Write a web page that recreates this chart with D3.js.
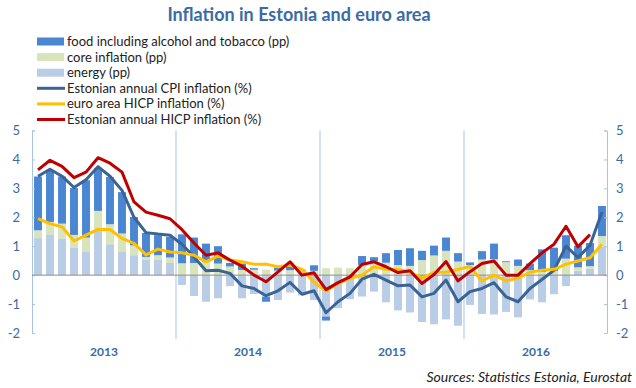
<!DOCTYPE html>
<html lang="en">
<head>
  <meta charset="utf-8">
  <title>Inflation in Estonia and euro area</title>
  <script src="https://d3js.org/d3.v7.min.js"></script>
  <style>
    body { margin: 0; background: #fff; }
    svg text { font-family: Lato, "Open Sans", sans-serif; }
  </style>
</head>
<body>
  <div id="chart"></div>

  <script>
    "use strict"

    // ---- data (Jan 2013 .. Dec 2016) ----
    var years = ['2013', '2014', '2015', '2016'];
    var monthNames = ['Jan','Feb','Mar','Apr','May','Jun','Jul','Aug','Sep','Oct','Nov','Dec'];
    var months = [];
    years.forEach(y => monthNames.forEach(m => months.push(m + ' ' + y)));

    var energy = [
      1.28, 1.41, 1.27, 0.94, 0.80, 1.53, 1.07, 0.80, 0.69, 0.54, 0.54, 0.42,
      -0.34, -0.72, -0.92, -0.80, -0.38, -0.80, -0.65, -0.75, -0.86, -0.60, -0.70, -0.86,
      -1.43, -1.14, -0.83, -0.74, -0.57, -0.94, -1.22, -1.29, -1.62, -1.70, -1.53, -1.75,
      -1.03, -1.34, -1.36, -1.27, -1.46, -0.84, -0.94, -0.66, -0.38, 0.15, 0.22, 0.98
    ];
    var core = [
      0.27, 0.43, 0.51, 0.45, 0.50, 0.69, 0.69, 0.64, 0.34, 0.09, 0.15, 0.19,
      0.41, 0.42, 0.46, 0.40, 0.30, 0.18, 0.19, 0.19, 0.16, 0.17, 0.17, 0.15,
      0.24, 0.26, 0.24, 0.35, 0.47, 0.43, 0.35, 0.32, 0.52, 0.68, 0.84, 0.47,
      0.35, 0.54, 0.55, 0.45, 0.32, 0.17, 0.11, 0.15, 0.57, 0.12, 0.09, 0.37
    ];
    var food = [
      1.86, 1.78, 1.63, 1.62, 1.98, 1.49, 1.63, 1.43, 0.98, 0.83, 0.69, 0.71,
      1.00, 0.88, 0.63, 0.60, 0.12, 0.22, 0.05, -0.17, 0.10, 0.14, 0.02, 0.19,
      -0.14, 0.00, 0.00, 0.31, 0.15, 0.33, 0.52, 0.61, 0.32, 0.34, 0.46, 0.29,
      0.09, 0.29, 0.54, 0.03, 0.22, 0.23, 0.78, 0.80, 0.81, 0.75, 0.80, 1.04
    ];
    var cpi = [
      3.42, 3.66, 3.42, 3.03, 3.30, 3.75, 3.42, 2.93, 2.00, 1.47, 1.42, 1.38,
      1.07, 0.63, 0.15, 0.17, 0.06, -0.37, -0.46, -0.71, -0.54, -0.25, -0.66, -0.54,
      -1.30, -0.92, -0.63, -0.14, 0.03, -0.17, -0.37, -0.34, -0.75, -0.63, -0.17, -0.92,
      -0.57, -0.46, -0.26, -0.75, -0.92, -0.46, -0.15, 0.17, 1.00, 0.61, 1.03, 2.18
    ];
    var euro = [
      1.95, 1.78, 1.67, 1.18, 1.38, 1.58, 1.58, 1.27, 1.10, 0.70, 0.90, 0.80,
      0.77, 0.69, 0.46, 0.66, 0.52, 0.46, 0.38, 0.38, 0.29, 0.35, 0.20, -0.25,
      -0.55, -0.29, -0.11, 0.00, 0.29, 0.20, 0.20, 0.10, -0.10, 0.10, 0.10, 0.20,
      0.30, -0.20, 0.00, -0.20, -0.10, 0.10, 0.17, 0.20, 0.38, 0.49, 0.60, 1.07
    ];
    var hicp = [
      3.64, 3.97, 3.76, 3.37, 3.56, 4.06, 3.87, 3.56, 2.53, 2.18, 2.07, 1.95,
      1.57, 1.11, 0.69, 0.77, 0.52, 0.31, 0.00, -0.23, 0.11, 0.46, 0.00, 0.08,
      -0.50, -0.26, -0.06, 0.37, 0.46, 0.29, 0.09, 0.15, -0.29, 0.02, 0.47, -0.20,
      0.12, 0.40, 0.49, 0.00, 0.00, 0.40, 0.77, 1.07, 1.69, 0.98, 1.40, null
    ];
    var yTicks = [-2, -1, 0, 1, 2, 3, 4, 5];

    var barKeys = ['energy', 'core', 'food'];
    var barColors = { food: '#4a86d2', core: '#d8e4bc', energy: '#b9cde6' };
    var legendItems = [
      { label: 'food including alcohol and tobacco (pp)', type: 'bar', color: barColors.food },
      { label: 'core inflation (pp)', type: 'bar', color: barColors.core },
      { label: 'energy (pp)', type: 'bar', color: barColors.energy },
      { label: 'Estonian annual CPI inflation (%)', type: 'line', color: '#3b6496' },
      { label: 'euro area HICP inflation (%)', type: 'line', color: '#ffc000' },
      { label: 'Estonian annual HICP inflation (%)', type: 'line', color: '#c00000' }
    ];
    var lineSeries = [
      { values: cpi, color: '#3b6496' },
      { values: euro, color: '#ffc000' },
      { values: hicp, color: '#c00000' }
    ];

    // ---- layout ----
    var W = 636, H = 388;
    var plotL = 32, plotR = 608, plotT = 130.5, plotB = 333;
    var axisBlue = '#a9c3e2', labelBlue = '#3b6aa5';

    var svg = d3.select('#chart').append('svg')
      .attr('width', W).attr('height', H);

    var x = d3.scaleBand().domain(months).range([plotL, plotR]).paddingInner(0.34).paddingOuter(0.17);
    var y = d3.scaleLinear().domain([-2, 5]).range([plotB, plotT]);
    var cx = d => x(d) + x.bandwidth() / 2;

    // title
    svg.append('text')
      .attr('x', 299).attr('y', 21)
      .attr('text-anchor', 'middle')
      .style('font-size', '18px').style('font-weight', 'bold')
      .style('fill', labelBlue)
      .text('Inflation in Estonia and euro area');

    // legend
    var lg = svg.append('g');
    legendItems.forEach(function (d, i) {
      var ly = 41.5 + i * 15.6;
      if (d.type === 'bar') {
        lg.append('rect').attr('x', 37).attr('y', ly - 4).attr('width', 27).attr('height', 8).attr('fill', d.color);
      } else {
        lg.append('line').attr('x1', 37).attr('x2', 65).attr('y1', ly).attr('y2', ly)
          .attr('stroke', d.color).attr('stroke-width', 3);
      }
      lg.append('text').attr('x', 67).attr('y', ly + 4.5)
        .style('font-size', '13px').style('fill', '#222')
        .text(d.label);
    });

    // stacked bars
    var table = months.map((m, i) => ({ month: m, energy: energy[i], core: core[i], food: food[i] }));
    var stacked = d3.stack().keys(barKeys).offset(d3.stackOffsetDiverging)(table);

    svg.append('g').selectAll('g')
      .data(stacked)
      .enter().append('g')
        .attr('fill', d => barColors[d.key])
      .selectAll('rect')
      .data(d => d)
      .enter().append('rect')
        .attr('x', d => x(d.data.month))
        .attr('width', x.bandwidth())
        .attr('y', d => y(Math.max(d[0], d[1])))
        .attr('height', d => Math.abs(y(d[0]) - y(d[1])));

    // axes
    var yl = svg.append('g').attr('transform', 'translate(' + plotL + ',0)')
      .call(d3.axisRight(y).tickValues(yTicks).tickSize(3).tickFormat(''));
    var yr = svg.append('g').attr('transform', 'translate(' + (plotR - 1) + ',0)')
      .call(d3.axisLeft(y).tickValues(yTicks).tickSize(3).tickFormat(''));
    [yl, yr].forEach(function (g) {
      g.select('.domain').attr('stroke', axisBlue);
      g.selectAll('.tick line').attr('stroke', axisBlue);
    });

    svg.append('g').selectAll('text')
      .data(yTicks).enter().append('text')
      .attr('x', 20).attr('y', d => y(d) + 4.5)
      .attr('text-anchor', 'end')
      .style('font-size', '13px').style('fill', labelBlue)
      .text(d => d);
    svg.append('g').selectAll('text')
      .data(yTicks).enter().append('text')
      .attr('x', 616).attr('y', d => y(d) + 4.5)
      .style('font-size', '13px').style('fill', labelBlue)
      .text(d => d);

    // year separators
    svg.append('g').selectAll('line')
      .data(years.slice(1)).enter().append('line')
      .attr('x1', d => x('Jan ' + d) - x.step() * x.paddingInner() / 2)
      .attr('x2', d => x('Jan ' + d) - x.step() * x.paddingInner() / 2)
      .attr('y1', plotT).attr('y2', plotB + 6)
      .attr('stroke', axisBlue).attr('stroke-width', 1);

    // zero line
    svg.append('line')
      .attr('x1', plotL).attr('x2', plotR - 1)
      .attr('y1', y(0)).attr('y2', y(0))
      .attr('stroke', '#8c8c8c').attr('stroke-width', 1);

    // lines
    var line = d3.line()
      .defined(d => d.v !== null)
      .x(d => cx(d.m))
      .y(d => y(d.v));
    lineSeries.forEach(function (s) {
      svg.append('path')
        .datum(months.map((m, i) => ({ m: m, v: s.values[i] })))
        .attr('d', line)
        .attr('fill', 'none')
        .attr('stroke', s.color)
        .attr('stroke-width', 3)
        .attr('stroke-linejoin', 'round');
    });

    // year labels
    svg.append('g').selectAll('text')
      .data(years).enter().append('text')
      .attr('x', (d, i) => plotL + (plotR - plotL) / 4 * (i + 0.5))
      .attr('y', 356)
      .attr('text-anchor', 'middle')
      .style('font-size', '12px').style('font-weight', 'bold')
      .style('fill', labelBlue)
      .text(d => d);

    // source
    svg.append('text')
      .attr('x', 632).attr('y', 382)
      .attr('text-anchor', 'end')
      .style('font-size', '14px').style('font-style', 'italic')
      .style('fill', '#222')
      .text('Sources: Statistics Estonia, Eurostat');
  </script>
</body>
</html>
